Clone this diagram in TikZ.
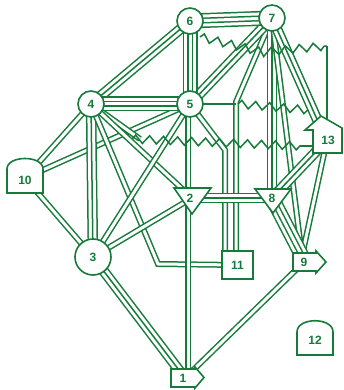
\documentclass[tikz,border=0pt]{standalone}
\usepackage{fontspec}
\setmainfont{Liberation Sans}
\usetikzlibrary{decorations.pathmorphing}
\definecolor{grn}{RGB}{22,122,58}
\tikzset{
  gl/.style={draw=grn, line cap=butt, line join=miter},
  wl/.style={draw=white, line cap=butt, line join=miter},
  circ/.style={circle, draw=grn, fill=white, line width=1.6pt, minimum size=26pt, inner sep=0pt, text=grn, font=\fontsize{12}{12}\selectfont\bfseries},
  shp/.style={draw=grn, fill=white, line width=1.6pt, line join=miter},
  lab/.style={text=grn, font=\fontsize{12}{12}\selectfont\bfseries, inner sep=0pt},
  zz/.style={draw=grn, line width=1.5pt, decorate, decoration={zigzag, amplitude=4pt, segment length=14pt}},
  thin/.style={draw=grn, line width=1.5pt}
}
\newcommand\laneA[1]{\draw[gl,line width=6pt] #1; \draw[wl,line width=3pt] #1;}
\newcommand\laneB[1]{\draw[gl,line width=10.5pt] #1; \draw[wl,line width=7.5pt] #1; \draw[gl,line width=1.5pt] #1;}
\newcommand\laneC[1]{\draw[gl,line width=15pt] #1; \draw[wl,line width=12pt] #1; \draw[gl,line width=6pt] #1; \draw[wl,line width=3pt] #1;}
\newcommand\laneD[1]{\draw[gl,line width=19.5pt] #1; \draw[wl,line width=16.5pt] #1; \draw[gl,line width=10.5pt] #1; \draw[wl,line width=7.5pt] #1; \draw[gl,line width=1.5pt] #1;}
\begin{document}
\begin{tikzpicture}[x=1pt,y=-1pt]
\useasboundingbox (0,0) rectangle (344,390);
% centres
\coordinate (c1) at (185,378);
\coordinate (c2) at (192,198);
\coordinate (c3) at (93,257);
\coordinate (c4) at (91,104);
\coordinate (c5) at (190,104);
\coordinate (c6) at (190,21);
\coordinate (c7) at (272,18);
\coordinate (c8) at (272,198);
\coordinate (c9) at (304,262);
\coordinate (c10) at (25,178);
\coordinate (c11) at (237,265);
\coordinate (c13) at (327,140);
\coordinate (k411) at (158,264);
\coordinate (k511) at (225,150);
\coordinate (k711) at (236,102);
\coordinate (cut4) at (140,139);
\coordinate (t9) at (302,256);
\coordinate (r13) at (320,126);
\coordinate (k5a) at (236,104);
% bundles
\laneA{(c4)--(c10)}
\laneA{(c5)--(c10)}
\laneA{(c3)--(c10)}
\laneB{(c4)--(c3)}
\laneA{(c4)--(cut4)}
\laneA{(c4)--(c2)}
\laneA{(c4)--(k411)--(c11)}
\laneA{(c5)--(c3)}
\laneA{(c3)--(c2)}
\laneB{(c3)--(c1)}
\laneA{(188,104)--(188,378)}
\laneA{(c5)--(k511)--(225,265)}
\laneA{(c7)--(k711)--(236,265)}
\laneB{(c7)--(c8)}
\laneA{(c7)--(t9)}
\laneB{(c7)--(r13)}
\laneA{(c13)--(t9)}
\laneB{(c13)--(c8)}
\laneC{(c8)--(t9)}
\laneB{(c2)--(c8)}
\laneA{(c9)--(c1)}
\laneB{(c5)--(c7)}
\laneB{(c6)--(c4)}
\laneC{(c6)--(c5)}
\laneC{(c4)--(c5)}
\laneC{(c6)--(c7)}
% zigzag tears and single lines
\draw[thin] (c5) -- (k5a);
\draw[zz] (200,37) -- (262,52) -- (327,46);
\draw[thin] (327,46) -- (327,121);
\draw[zz] (238,104) -- (308,110);
\draw[zz] (132,139) -- (300,146);
\draw[thin] (300,146) -- (313,146);
% nodes
\node[circ] (n6) at (c6) {6};
\node[circ] (n7) at (c7) {7};
\node[circ] (n4) at (c4) {4};
\node[circ] (n5) at (c5) {5};
\node[circ, minimum size=36pt] (n3) at (c3) {3};
\draw[shp] (174,188) -- (211,188) -- (192,214) -- cycle;
\node[lab] (n2) at (190,198) {2};
\draw[shp] (255,189) -- (291,189) -- (273,213) -- cycle;
\node[lab] (n8) at (272,198) {8};
\draw[shp] (222,251) rectangle (253,279);
\node[lab] (n11) at (237.5,265) {11};
\draw[shp] (293,253) -- (316,253) -- (316,251) -- (326,262) -- (316,273) -- (316,271) -- (293,271) -- cycle;
\node[lab] (n9) at (304,262) {9};
\draw[shp] (171,369) -- (195,369) -- (195,367) -- (204,377.5) -- (195,388) -- (195,387) -- (171,387) -- cycle;
\node[lab] (n1) at (183,378) {1};
\draw[shp] (7,193) -- (7,169) .. controls (7,155) and (43,155) .. (43,169) -- (43,193) -- cycle;
\node[lab] (n10) at (25,180) {10};
\draw[shp] (297,355) -- (297,332) .. controls (297,317) and (333,317) .. (333,332) -- (333,355) -- cycle;
\node[lab] (n12) at (315,340) {12};
\draw[shp] (313,153) -- (313,130) -- (305,130) -- (321,116) -- (342,128) -- (342,153) -- cycle;
\node[lab] (n13) at (328,140) {13};
\end{tikzpicture}
\end{document}
